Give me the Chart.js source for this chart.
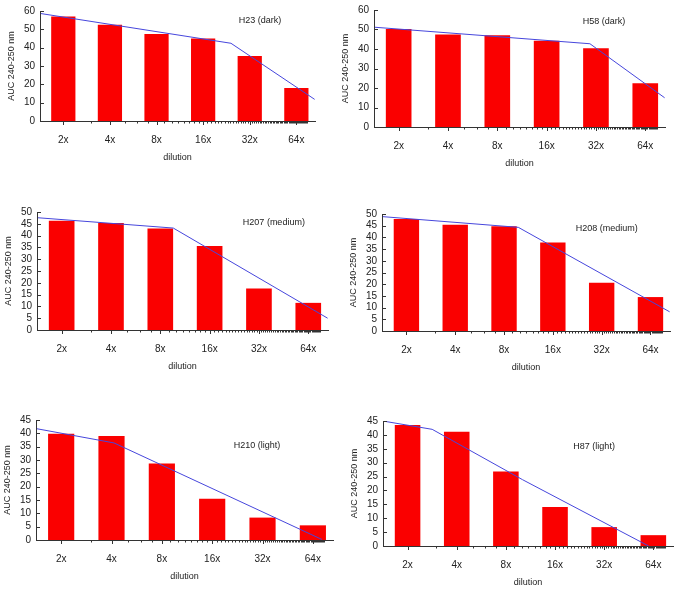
<!DOCTYPE html>
<html>
<head>
<meta charset="utf-8">
<script src="https://cdn.jsdelivr.net/npm/chart.js@4.4.1/dist/chart.umd.min.js"></script>
<style>
  body { margin: 0; background: #fff; }
  #wrap { position: relative; width: 675px; height: 590px; overflow: hidden; }
  #wrap canvas { position: absolute; }
</style>
</head>
<body>
<div id="wrap"></div>
<script>
const dilutionLabels = ["2x", "4x", "8x", "16x", "32x", "64x"];
const dilutionFactors = [2, 4, 8, 16, 32, 64];

// bar heights (AUC 240-250 nm)
const h23 = [57, 52.5, 47.5, 45, 35.5, 18];
const h58 = [50.3, 47.5, 47, 44.2, 40.4, 22.4];
const h207 = [46.3, 45.3, 43, 35.6, 17.6, 11.5];
const h208 = [47.9, 45.4, 44.8, 37.8, 20.6, 14.5];
const h210 = [39.8, 39, 28.7, 15.5, 8.4, 5.5];
const h87 = [43.6, 41.1, 26.8, 14, 6.8, 3.9];

// fitted lines, [dilution, AUC] break points
const h23Fit = [[1.41, 58.7], [24.2, 42.4], [84, 11.8]];
const h58Fit = [[1.41, 51.2], [29.4, 42.7], [84, 15.0]];
const h207Fit = [[1.41, 47.6], [9.6, 43.2], [84, 5.0]];
const h208Fit = [[1.41, 48.9], [9.8, 44.3], [84, 8.2]];
const h210Fit = [[1.41, 41.8], [4.14, 36.4], [72.5, 0.2]];
const h87Fit = [[1.41, 45.0], [2.83, 42.0], [10.1, 23.9], [59.9, 0]];

const minorTickMax = 75;

Chart.defaults.font.family = "'Liberation Sans', Arial, sans-serif";
Chart.defaults.font.size = 9;
Chart.defaults.color = "#222";

// panel boxes: plot area in page pixels
const panels = [
  { name: "H23 (dark)", values: h23, fit: h23Fit, yMax: 60, yStep: 10, box: [40, 6, 275, 115], nameX: 0.80, nameY: 10 },
  { name: "H58 (dark)", values: h58, fit: h58Fit, yMax: 60, yStep: 10, box: [374, 5, 291, 122], nameX: 0.79, nameY: 12 },
  { name: "H207 (medium)", values: h207, fit: h207Fit, yMax: 50, yStep: 5, box: [37, 207, 291, 123], nameX: 0.814, nameY: 11 },
  { name: "H208 (medium)", values: h208, fit: h208Fit, yMax: 50, yStep: 5, box: [382, 209, 288, 122], nameX: 0.78, nameY: 15 },
  { name: "H210 (light)", values: h210, fit: h210Fit, yMax: 45, yStep: 5, box: [36, 415, 297, 125], nameX: 0.744, nameY: 26 },
  { name: "H87 (light)", values: h87, fit: h87Fit, yMax: 45, yStep: 5, box: [383, 416, 290, 130], nameX: 0.728, nameY: 26 },
];

const yAxisW = 36, xAxisH = 50, padTop = 6, padRight = 4;

const axisTicks = {
  id: "axisTicks",
  afterDraw(chart, args, opts) {
    const { ctx, chartArea, scales } = chart;
    ctx.save();
    ctx.strokeStyle = "#333";
    ctx.lineWidth = 1;
    ctx.beginPath();
    scales.y.ticks.forEach((t) => {
      const y = Math.round(scales.y.getPixelForValue(t.value)) + 0.5;
      ctx.moveTo(chartArea.left, y);
      ctx.lineTo(chartArea.left + 4, y);
    });
    for (let n = 2; n <= minorTickMax; n++) {
      const x = Math.round(scales.x.getPixelForValue(Math.log2(n))) + 0.5;
      if (x > chartArea.right) break;
      const len = Number.isInteger(Math.log2(n)) ? 4 : 2.5;
      ctx.moveTo(x, chartArea.bottom);
      ctx.lineTo(x, chartArea.bottom + len);
    }
    ctx.stroke();
    ctx.fillStyle = "#222";
    ctx.font = "9px 'Liberation Sans', Arial, sans-serif";
    ctx.textAlign = "center";
    ctx.textBaseline = "middle";
    ctx.fillText(opts.name, chartArea.left + opts.nameX * chartArea.width, chartArea.top + opts.nameY);
    ctx.restore();
  },
};

const wrap = document.getElementById("wrap");
panels.forEach((p) => {
  const [px, py, pw, ph] = p.box;
  const canvas = document.createElement("canvas");
  canvas.width = yAxisW + pw + padRight;
  canvas.height = padTop + ph + xAxisH;
  canvas.style.left = px - yAxisW + "px";
  canvas.style.top = py - padTop + "px";
  wrap.appendChild(canvas);

  new Chart(canvas, {
    type: "bar",
    data: {
      datasets: [
        {
          type: "line",
          data: p.fit.map(([d, v]) => ({ x: Math.log2(d), y: v })),
          borderColor: "#4646dc",
          borderWidth: 1,
          pointRadius: 0,
          tension: 0,
          order: 0,
        },
        {
          type: "bar",
          data: dilutionFactors.map((d, i) => ({ x: Math.log2(d), y: p.values[i] })),
          backgroundColor: "#fa0000",
          barPercentage: 0.52,
          categoryPercentage: 1,
          order: 1,
        },
      ],
    },
    options: {
      responsive: false,
      animation: false,
      layout: { padding: { top: padTop, right: padRight, left: 0, bottom: 0 } },
      plugins: {
        legend: { display: false },
        tooltip: { enabled: false },
        axisTicks: { name: p.name, nameX: p.nameX, nameY: p.nameY },
      },
      scales: {
        x: {
          type: "linear",
          offset: false,
          min: 0.5,
          max: 6.4,
          afterBuildTicks: (s) => {
            s.ticks = dilutionFactors.map((d) => ({ value: Math.log2(d) }));
          },
          afterFit: (s) => {
            s.height = xAxisH;
          },
          grid: { display: false, drawTicks: false },
          border: { color: "#333", z: 1 },
          ticks: {
            padding: 13,
            maxRotation: 0,
            autoSkip: false,
            font: { size: 10 },
            callback: (v, i) => dilutionLabels[i],
          },
          title: { display: true, text: "dilution", padding: { top: 0, bottom: 8 } },
        },
        y: {
          min: 0,
          max: p.yMax,
          afterFit: (s) => {
            s.width = yAxisW;
          },
          grid: { display: false, drawTicks: false },
          border: { color: "#333", z: 1 },
          ticks: { stepSize: p.yStep, padding: 5, autoSkip: false, font: { size: 10 } },
          title: { display: true, text: "AUC 240-250 nm", padding: { top: 2, bottom: 0 } },
        },
      },
    },
    plugins: [axisTicks],
  });
});
</script>
</body>
</html>
